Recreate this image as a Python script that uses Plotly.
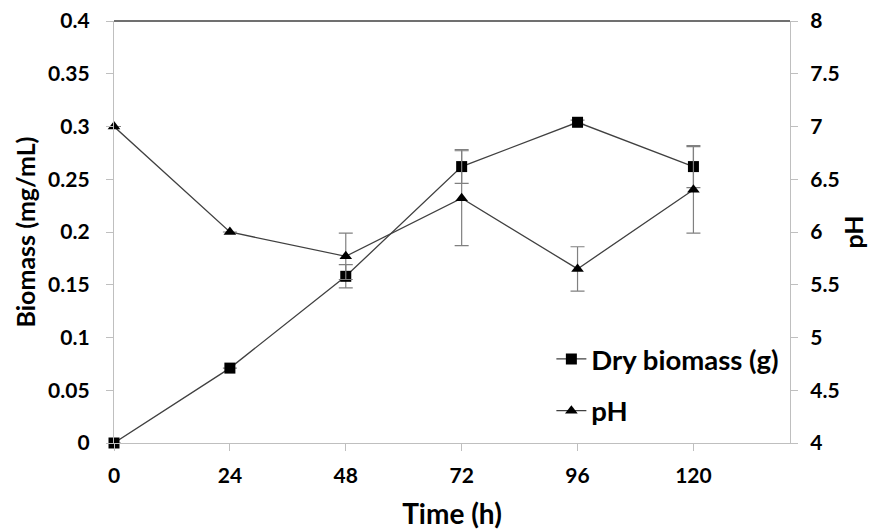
import plotly.graph_objects as go

time_h = [0, 24, 48, 72, 96, 120]
biomass = [0.0, 0.071, 0.158, 0.262, 0.304, 0.262]
biomass_err = [0.0, 0.0, 0.011, 0.016, 0.002, 0.020]
ph = [7.0, 6.0, 5.77, 6.32, 5.65, 6.40]
ph_err = [0.0, 0.0, 0.22, 0.45, 0.21, 0.41]

x_ticks = [0, 24, 48, 72, 96, 120]
y1_ticks = [0, 0.05, 0.1, 0.15, 0.2, 0.25, 0.3, 0.35, 0.4]
y1_labels = ["0", "0.05", "0.1", "0.15", "0.2", "0.25", "0.3", "0.35", "0.4"]
y2_ticks = [4, 4.5, 5, 5.5, 6, 6.5, 7, 7.5, 8]
y2_labels = ["4", "4.5", "5", "5.5", "6", "6.5", "7", "7.5", "8"]

FONT = "Lato"
LINE = "#404040"
ERR = "#808080"
AX = "#bfbfbf"

fig = go.Figure()
fig.add_trace(go.Scatter(
    x=time_h, y=biomass, name="Dry biomass (g)", mode="lines+markers",
    line=dict(color=LINE, width=1.3),
    marker=dict(symbol="square", size=11, color="black"),
    error_y=dict(type="data", array=biomass_err, color=ERR, thickness=1.2, width=7),
    legendgroup="a", cliponaxis=False, yaxis="y"))
fig.add_trace(go.Scatter(
    x=time_h, y=ph, name="pH", mode="lines+markers",
    line=dict(color=LINE, width=1.3),
    marker=dict(symbol="triangle-up", size=11, color="black"),
    error_y=dict(type="data", array=ph_err, color=ERR, thickness=1.2, width=7),
    legendgroup="b", cliponaxis=False, yaxis="y2"))

fig.add_shape(type="line", xref="paper", yref="paper", x0=0, x1=1, y0=1, y1=1,
              line=dict(color=LINE, width=1.3))

tickfont = dict(family=FONT, size=21, weight="bold")

fig.update_layout(
    width=871, height=522,
    margin=dict(l=106, r=89, t=13, b=87, autoexpand=False),
    paper_bgcolor="white", plot_bgcolor="white",
    font=dict(family=FONT, color="black"),
    showlegend=True,
    legend=dict(x=0.647, y=0.257, xanchor="left", yanchor="top",
                font=dict(family=FONT, size=27.5, color="black", weight="bold"),
                tracegroupgap=13, traceorder="grouped",
                bgcolor="rgba(0,0,0,0)"),
    xaxis=dict(range=[0, 140], tickvals=x_ticks, ticktext=[str(v) for v in x_ticks],
               showline=True, linecolor=AX, linewidth=1.3, ticks="outside",
               tickcolor=AX, ticklen=7, showgrid=False, zeroline=False,
               automargin=False, tickfont=tickfont, ticklabelstandoff=7,
               ticklabeloverflow="allow",
               title=dict(text="Time (h)", font=dict(family=FONT, size=28, weight="bold"), standoff=20)),
    yaxis=dict(range=[0, 0.4], tickvals=y1_ticks, ticktext=y1_labels,
               showline=True, linecolor=AX, linewidth=1.3, ticks="outside",
               tickcolor=AX, ticklen=7, showgrid=False, zeroline=False,
               automargin=False, tickfont=tickfont, ticklabelstandoff=12,
               ticklabeloverflow="allow",
               title=dict(text="Biomass (mg/mL)", font=dict(family=FONT, size=25, weight="bold"), standoff=5)),
    yaxis2=dict(range=[4, 8], tickvals=y2_ticks, ticktext=y2_labels, overlaying="y",
                side="right", showline=True, linecolor=AX, linewidth=1.3, ticks="outside",
                tickcolor=AX, ticklen=7, showgrid=False, zeroline=False,
                automargin=False, tickfont=tickfont, ticklabelstandoff=8,
                ticklabeloverflow="allow",
                title=dict(text="pH", font=dict(family=FONT, size=25, weight="bold"), standoff=6)),
)

fig.write_html("out.html")
